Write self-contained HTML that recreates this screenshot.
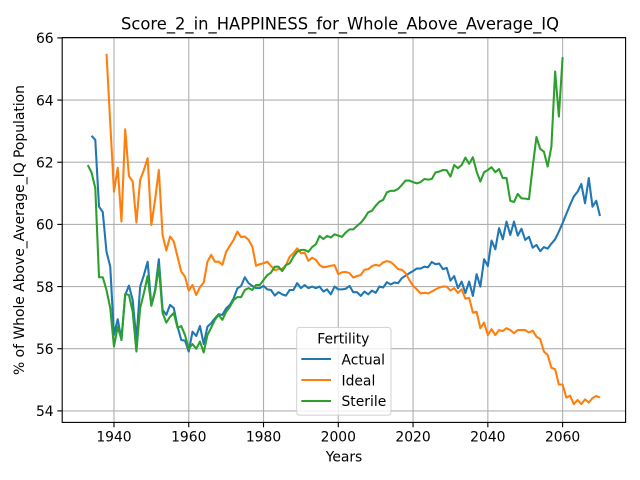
<!DOCTYPE html>
<html>
<head>
<meta charset="utf-8">
<title>Score_2_in_HAPPINESS_for_Whole_Above_Average_IQ</title>
<style>
html,body{margin:0;padding:0;background:#fff;}
svg{display:block;}
text{font-family:"DejaVu Sans",sans-serif;fill:#000;}
</style>
</head>
<body>
<svg id="chart" width="640" height="480" viewBox="0 0 640 480" xmlns="http://www.w3.org/2000/svg">
  <g id="grid"></g>
  <g id="series"></g>
  <g id="frame"></g>
  <g id="ticks"></g>
  <text x="340" y="29.5" text-anchor="middle" font-size="16.67" textLength="438" lengthAdjust="spacingAndGlyphs">Score_2_in_HAPPINESS_for_Whole_Above_Average_IQ</text>
  <text x="344" y="461.5" text-anchor="middle" font-size="13.89">Years</text>
  <text transform="translate(24,230) rotate(-90)" text-anchor="middle" font-size="13.89">% of Whole Above_Average_IQ Population</text>
  <g id="legend">
    <rect x="296.7" y="327.4" width="94.3" height="87.8" rx="3" ry="3" fill="#fff" fill-opacity="0.8" stroke="#ccc" stroke-opacity="0.8" stroke-width="1.1"></rect>
    <text x="343.3" y="343.3" text-anchor="middle" font-size="13.89">Fertility</text>
    <line x1="301.3" y1="359" x2="331" y2="359" stroke="#1f77b4" stroke-width="2.08"></line>
    <text x="341.5" y="364.3" font-size="13.89">Actual</text>
    <line x1="301.3" y1="380" x2="331" y2="380" stroke="#ff7f0e" stroke-width="2.08"></line>
    <text x="341.5" y="385.3" font-size="13.89">Ideal</text>
    <line x1="301.3" y1="401" x2="331" y2="401" stroke="#2ca02c" stroke-width="2.08"></line>
    <text x="341.5" y="406" font-size="13.89">Sterile</text>
  </g>
</svg>
<script>
const xTickLabels = [1940, 1960, 1980, 2000, 2020, 2040, 2060];
const yTickLabels = [54, 56, 58, 60, 62, 64, 66];

const actualStartYear = 1934;
const actualValues = [
  62.85,62.72,60.57,60.40,59.12,58.64,
  56.45,56.95,56.28,57.73,58.03,57.57,56.28,58.0,58.37,58.8,
  57.4,57.89,58.88,57.25,57.09,57.41,57.31,56.71,56.28,56.26,
  55.91,56.55,56.41,56.73,56.15,56.71,56.82,56.98,57.11,57.09,
  57.3,57.41,57.62,57.94,58.02,58.3,58.11,58.02,57.95,57.95,
  58.02,57.91,57.89,57.71,57.82,57.75,57.71,57.89,57.89,58.11,
  57.95,58.05,57.95,58.0,57.95,58.0,57.84,57.91,57.75,58.0,
  57.91,57.91,57.93,58.02,57.82,57.82,57.7,57.84,57.75,57.87,
  57.8,58.0,57.97,58.14,58.07,58.13,58.11,58.27,58.35,58.43,
  58.5,58.58,58.58,58.64,58.62,58.79,58.72,58.74,58.56,58.6,
  58.19,58.34,57.95,58.16,57.79,58.16,57.7,58.4,58.0,58.88,
  58.66,59.48,59.2,59.88,59.52,60.09,59.66,60.09,59.64,59.86,
  59.5,59.6,59.25,59.34,59.14,59.27,59.22,59.38,59.52,59.77,
  60.04,60.34,60.63,60.9,61.05,61.3,60.68,61.49,60.57,60.76,60.27
];

const idealStartYear = 1938;
const idealValues = [
  65.49,63.27,
  61.05,61.82,60.09,63.06,61.56,61.38,60.06,61.43,61.75,62.13,
  59.98,60.8,61.75,59.66,59.16,59.61,59.45,58.96,58.48,58.32,
  57.87,58.05,57.73,57.98,58.13,58.8,59.02,58.8,58.8,58.7,
  59.12,59.31,59.5,59.77,59.59,59.61,59.5,59.29,58.67,58.72,
  58.75,58.8,58.66,58.53,58.56,58.57,58.69,58.96,59.07,59.23,
  59.07,59.09,58.83,58.93,58.86,58.69,58.62,58.64,58.67,58.69,
  58.4,58.46,58.47,58.43,58.29,58.34,58.37,58.54,58.56,58.66,
  58.7,58.67,58.78,58.82,58.79,58.69,58.56,58.54,58.43,58.21,
  58.03,57.91,57.78,57.8,57.78,57.84,57.91,57.97,58.0,58.0,
  57.87,57.95,57.8,57.91,57.61,57.64,57.16,57.19,56.66,56.84,
  56.44,56.63,56.44,56.6,56.57,56.66,56.6,56.5,56.6,56.6,
  56.6,56.52,56.58,56.39,56.31,55.91,55.8,55.39,55.34,54.85,
  54.85,54.43,54.49,54.22,54.35,54.22,54.37,54.27,54.41,54.48,54.43
];

const sterileStartYear = 1933;
const sterileValues = [
  61.91,61.67,61.17,58.3,58.3,57.89,57.31,
  56.07,56.71,56.3,57.76,57.73,57.19,55.91,57.31,57.79,58.34,
  57.38,57.84,58.64,57.15,56.84,57.03,57.15,56.67,56.73,56.44,
  56.0,56.15,56.0,56.23,55.88,56.44,56.68,56.93,57.09,56.93,
  57.19,57.35,57.57,57.66,57.66,57.89,57.95,57.89,58.05,58.05,
  58.21,58.37,58.45,58.64,58.64,58.5,58.69,58.75,58.96,59.12,
  59.18,59.18,59.12,59.27,59.36,59.63,59.53,59.63,59.58,59.68,
  59.64,59.6,59.74,59.84,59.84,59.95,60.05,60.2,60.39,60.44,
  60.6,60.73,60.79,61.03,61.08,61.08,61.14,61.27,61.41,61.41,
  61.36,61.32,61.36,61.46,61.44,61.46,61.67,61.7,61.75,61.74,
  61.54,61.91,61.81,61.91,62.15,61.95,62.16,61.7,61.38,61.68,
  61.75,61.84,61.68,61.78,61.49,61.49,60.76,60.72,60.98,60.84,
  60.83,60.81,61.86,62.81,62.43,62.34,61.86,62.5,64.92,63.47,65.38
];

const NS = 'http://www.w3.org/2000/svg';
const plotLeft = 62.2, plotRight = 625.6, plotTop = 37.6, plotBottom = 422.4;
const xDomainMin = 1926.15, xDomainMax = 2076.85;
const yDomainMin = 53.63, yDomainMax = 66.01;

function xScale(year) {
  return plotLeft + (year - xDomainMin) / (xDomainMax - xDomainMin) * (plotRight - plotLeft);
}
function yScale(value) {
  return plotBottom - (value - yDomainMin) / (yDomainMax - yDomainMin) * (plotBottom - plotTop);
}
function makeLine(x1, y1, x2, y2, color, width) {
  const l = document.createElementNS(NS, 'line');
  l.setAttribute('x1', x1);
  l.setAttribute('y1', y1);
  l.setAttribute('x2', x2);
  l.setAttribute('y2', y2);
  l.setAttribute('stroke', color);
  l.setAttribute('stroke-width', width);
  return l;
}
function makeLabel(x, y, anchor, content) {
  const t = document.createElementNS(NS, 'text');
  t.setAttribute('x', x);
  t.setAttribute('y', y);
  t.setAttribute('text-anchor', anchor);
  t.setAttribute('font-size', '13.89');
  t.textContent = content;
  return t;
}

const gridGroup = document.getElementById('grid');
const tickGroup = document.getElementById('ticks');
const seriesGroup = document.getElementById('series');
const frameGroup = document.getElementById('frame');

xTickLabels.forEach(function (year) {
  const x = xScale(year);
  const g = makeLine(x, plotTop, x, plotBottom, '#b0b0b0', 1.11);
  
  
  gridGroup.appendChild(g);
  const t = makeLine(x, plotBottom, x, plotBottom + 4.86, '#000', 1.11);
  
  
  tickGroup.appendChild(t);
  const lab = makeLabel(x, plotBottom + 19.2, 'middle', String(year));
  
  
  tickGroup.appendChild(lab);
});

yTickLabels.forEach(function (value) {
  const y = yScale(value);
  const g = makeLine(plotLeft, y, plotRight, y, '#b0b0b0', 1.11);
  
  
  gridGroup.appendChild(g);
  const t = makeLine(plotLeft - 4.86, y, plotLeft, y, '#000', 1.11);
  
  
  tickGroup.appendChild(t);
  const lab = makeLabel(plotLeft - 8.6, y + 5.2, 'end', String(value));
  
  
  tickGroup.appendChild(lab);
});

function drawSeries(startYear, values, color) {
  const pts = values.map(function (v, i) {
    return xScale(startYear + i).toFixed(2) + ',' + yScale(v).toFixed(2);
  });
  const p = document.createElementNS(NS, 'polyline');
  p.setAttribute('points', pts.join(' '));
  p.setAttribute('fill', 'none');
  p.setAttribute('stroke', color);
  p.setAttribute('stroke-width', '2.08');
  p.setAttribute('stroke-linejoin', 'round');
  p.setAttribute('stroke-linecap', 'butt');
  return p;
}

const actualLine = drawSeries(actualStartYear, actualValues, '#1f77b4');


seriesGroup.appendChild(actualLine);

const idealLine = drawSeries(idealStartYear, idealValues, '#ff7f0e');


seriesGroup.appendChild(idealLine);

const sterileLine = drawSeries(sterileStartYear, sterileValues, '#2ca02c');


seriesGroup.appendChild(sterileLine);

const plotFrame = document.createElementNS(NS, 'rect');
plotFrame.setAttribute('x', plotLeft);
plotFrame.setAttribute('y', plotTop);
plotFrame.setAttribute('width', plotRight - plotLeft);
plotFrame.setAttribute('height', plotBottom - plotTop);
plotFrame.setAttribute('fill', 'none');
plotFrame.setAttribute('stroke', '#000');
plotFrame.setAttribute('stroke-width', '1.11');


frameGroup.appendChild(plotFrame);
</script>
</body>
</html>
